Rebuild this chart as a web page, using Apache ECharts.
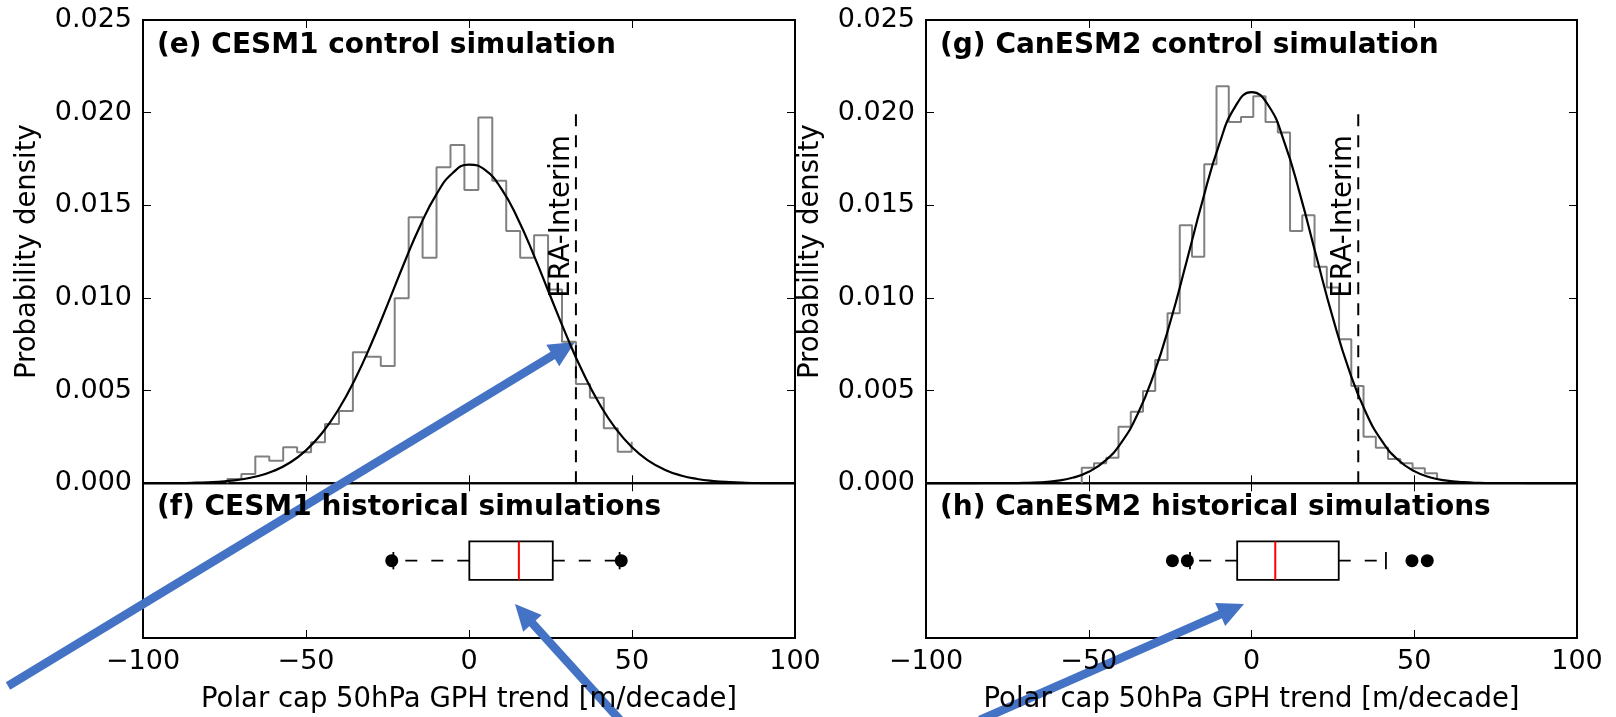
<!DOCTYPE html>
<html>
<head>
<meta charset="utf-8">
<title>Polar cap 50hPa GPH trend distributions</title>
<script src="https://cdn.jsdelivr.net/npm/echarts@6/dist/echarts.min.js"></script>
<style>
  html, body { margin: 0; padding: 0; background: #fff; }
  #chart { width: 1616px; height: 717px; }
</style>
</head>
<body>
<div id="chart"></div>
<script>
// ---- data -------------------------------------------------------------
const xTickValues = [-100, -50, 0, 50, 100];
const yTickValues = [0, 0.005, 0.010, 0.015, 0.020, 0.025];

const panelTitles = [
  '(e) CESM1 control simulation',
  '(f) CESM1 historical simulations',
  '(g) CanESM2 control simulation',
  '(h) CanESM2 historical simulations'
];
const xAxisTitle = 'Polar cap 50hPa GPH trend [m/decade]';
const yAxisTitle = 'Probability density';
const refLabel = 'ERA-Interim';

// observed (reanalysis) trend and the height of its marker line
const eraTrend = 32.8;
const eraLineTop = 0.020;
const eraLabelY = 0.010;

// CESM1 control run histogram (bin edges, densities, closing level of the outline)
const cesmEdges = [-74.1, -69.82, -65.55, -61.27, -57.0, -52.72, -48.44, -44.17, -39.89, -35.62,
  -31.34, -27.06, -22.79, -18.51, -14.24, -9.96, -5.68, -1.41, 2.87, 7.14,
  11.42, 15.70, 19.97, 24.25, 28.52, 32.80, 37.08, 41.35, 45.63, 49.90];
const cesmDensity = [0.00023, 0.0005, 0.00144, 0.00122, 0.00194, 0.00167, 0.00221, 0.0032, 0.0039, 0.00707,
  0.00683, 0.00633, 0.00998, 0.01436, 0.01217, 0.01706, 0.01826, 0.01582, 0.01974, 0.01632,
  0.01362, 0.01217, 0.01339, 0.01046, 0.00764, 0.00536, 0.00462, 0.00297, 0.0017];
const cesmOutlineEnd = 0.00224;

// CanESM2 control run histogram (bin edges, densities, closing level of the outline)
const canEdges = [-52.15, -48.39, -44.62, -40.86, -37.09, -33.33, -29.57, -25.80, -22.04, -18.27,
  -14.51, -10.75, -6.98, -3.22, 0.55, 4.31, 8.08, 11.84, 15.60, 19.37,
  23.13, 26.90, 30.66, 34.42, 38.19, 41.95, 45.72, 49.48, 53.25, 57.01];
const canDensity = [0.00084, 0.00108, 0.00138, 0.00305, 0.00386, 0.00498, 0.00665, 0.00917, 0.01392, 0.01222,
  0.01722, 0.02143, 0.0195, 0.01977, 0.02089, 0.0195, 0.01893, 0.01362, 0.01447, 0.01168,
  0.01057, 0.00777, 0.00525, 0.00251, 0.00192, 0.00131, 0.00108, 0.00081, 0.00054];
const canOutlineEnd = 0.00023;

// fitted density curves, sampled every 5 m/decade
const fitX = [-100, -95, -90, -85, -80, -75, -70, -65, -60, -55, -50, -45, -40, -35, -30, -25, -20, -15, -10, -5,
  0, 5, 10, 15, 20, 25, 30, 35, 40, 45, 50, 55, 60, 65, 70, 75, 80, 85, 90, 95, 100];
const cesmFit = [0.000002, 0.000005, 0.000012, 0.000026, 0.000054, 0.000108, 0.000206, 0.000378, 0.000662, 0.001108,
  0.001777, 0.002725, 0.003994, 0.005604, 0.007515, 0.009642, 0.011832, 0.013889, 0.015592, 0.016743,
  0.017196, 0.016894, 0.015872, 0.014264, 0.01226, 0.010081, 0.007927, 0.005962, 0.00429, 0.002952,
  0.001942, 0.001223, 0.000736, 0.000424, 0.000233, 0.000123, 0.000062, 0.00003, 0.000014, 0.000006, 0.000002];
const canFit = [0, 0, 0, 0.000001, 0.000003, 0.000008, 0.000021, 0.000055, 0.000132, 0.000297,
  0.000621, 0.001209, 0.002198, 0.003726, 0.00589, 0.008679, 0.011925, 0.015277, 0.01825, 0.020327,
  0.02111, 0.020441, 0.018455, 0.015537, 0.012195, 0.008925, 0.00609, 0.003876, 0.002299, 0.001271,
  0.000656, 0.000315, 0.000141, 0.000059, 0.000023, 0.000008, 0.000003, 0.000001, 0, 0, 0];

// historical ensembles: [lower whisker, Q1, median, Q3, upper whisker] and outliers
const cesmHistBox = [-23.2, 0.1, 15.3, 25.7, 46.2];
const cesmHistOutliers = [-23.7, 46.7];
const canHistBox = [-18.9, -4.4, 7.3, 26.8, 41.3];
const canHistOutliers = [-24.3, -19.7, 49.3, 54.0];

// ---- layout & style ---------------------------------------------------
const FONT = 'DejaVu Sans';
const FS_TICK = 27;
const FS_TITLE = 28;
const FS_NAME = 27.5;
const PANELS = [
  { left: 143, width: 652 },
  { left: 926, width: 651 }
];
const HIST_TOP = 20, HIST_H = 463.3, BOX_H = 154.7;
const BOX_HALF = 0.124, CAP_HALF = 0.056;

const minus = v => (v < 0 ? '\u2212' + Math.abs(v) : String(v));

// histogram outline: rises from the baseline at the first edge, closes at endLevel
function stepOutline(edges, dens, endLevel) {
  const pts = [[edges[0], 0]];
  dens.forEach((d, i) => pts.push([edges[i], d]));
  pts.push([edges[edges.length - 1], endLevel]);
  return pts;
}
const zip = (xs, ys) => xs.map((x, i) => [x, ys[i]]);

const grids = [];
const xAxes = [];
const yAxes = [];
const series = [];
const titles = [];

const tickStyle = { show: true, inside: true, length: 8, lineStyle: { color: '#000', width: 1 } };
const noLine = { show: false, onZero: false };
const baseX = {
  type: 'value', min: xTickValues[0], max: xTickValues[xTickValues.length - 1],
  interval: xTickValues[1] - xTickValues[0],
  axisLine: noLine, splitLine: { show: false }, axisTick: tickStyle
};
const baseY = {
  type: 'value', min: yTickValues[0], max: yTickValues[yTickValues.length - 1],
  interval: yTickValues[1] - yTickValues[0],
  axisLine: noLine, splitLine: { show: false }, axisTick: tickStyle
};

const histSets = [
  { edges: cesmEdges, dens: cesmDensity, end: cesmOutlineEnd, fit: cesmFit, box: cesmHistBox, out: cesmHistOutliers },
  { edges: canEdges, dens: canDensity, end: canOutlineEnd, fit: canFit, box: canHistBox, out: canHistOutliers }
];

function renderBox(params, api) {
  const lo = api.value(0), q1 = api.value(1), med = api.value(2), q3 = api.value(3), hi = api.value(4);
  const yc = 0.5;
  const yTop = api.coord([q1, yc + BOX_HALF])[1];
  const yBot = api.coord([q1, yc - BOX_HALF])[1];
  const yMid = api.coord([q1, yc])[1];
  const cT = api.coord([q1, yc + CAP_HALF])[1];
  const cB = api.coord([q1, yc - CAP_HALF])[1];
  const px = v => api.coord([v, yc])[0];
  const xLo = px(lo), x1 = px(q1), xm = px(med), x3 = px(q3), xHi = px(hi);
  const solid = { stroke: '#000', lineWidth: 1.8, fill: null };
  const dashed = { stroke: '#000', lineWidth: 1.8, lineDash: [12, 14], fill: null };
  return {
    type: 'group',
    children: [
      { type: 'line', shape: { x1: x1, y1: yMid, x2: xLo, y2: yMid }, style: dashed },
      { type: 'line', shape: { x1: x3, y1: yMid, x2: xHi, y2: yMid }, style: dashed },
      { type: 'line', shape: { x1: xLo, y1: cT, x2: xLo, y2: cB }, style: solid },
      { type: 'line', shape: { x1: xHi, y1: cT, x2: xHi, y2: cB }, style: solid },
      { type: 'rect', shape: { x: x1, y: yTop, width: x3 - x1, height: yBot - yTop },
        style: { stroke: '#000', lineWidth: 1.8, fill: 'rgba(0,0,0,0)' } },
      { type: 'line', shape: { x1: xm, y1: yTop, x2: xm, y2: yBot },
        style: { stroke: '#ff0000', lineWidth: 2 } }
    ]
  };
}

PANELS.forEach((p, k) => {
  const gHist = grids.length;
  grids.push({ left: p.left, top: HIST_TOP, width: p.width, height: HIST_H,
    show: true, borderColor: '#000', borderWidth: 2, backgroundColor: 'transparent', containLabel: false });
  const gBox = grids.length;
  grids.push({ left: p.left, top: HIST_TOP + HIST_H, width: p.width, height: BOX_H,
    show: true, borderColor: '#000', borderWidth: 2, backgroundColor: 'transparent', containLabel: false });

  // x axes: histogram bottom/top, box bottom/top
  const xHist = xAxes.length;
  xAxes.push(Object.assign({}, baseX, { gridIndex: gHist, position: 'bottom', axisLabel: { show: false } }));
  xAxes.push(Object.assign({}, baseX, { gridIndex: gHist, position: 'top', axisLabel: { show: false } }));
  const xBox = xAxes.length;
  xAxes.push(Object.assign({}, baseX, {
    gridIndex: gBox, position: 'bottom',
    axisLabel: { show: true, margin: 10, fontFamily: FONT, fontSize: FS_TICK, color: '#000', formatter: minus },
    name: xAxisTitle, nameLocation: 'middle', nameGap: 48,
    nameTextStyle: { fontFamily: FONT, fontSize: FS_NAME, color: '#000' }
  }));
  xAxes.push(Object.assign({}, baseX, { gridIndex: gBox, position: 'top', axisLabel: { show: false } }));

  // y axes: histogram left (labelled) / right, box (hidden)
  const yHist = yAxes.length;
  yAxes.push(Object.assign({}, baseY, {
    gridIndex: gHist, position: 'left',
    axisLabel: { show: true, margin: 11, fontFamily: FONT, fontSize: FS_TICK, color: '#000',
      formatter: v => v.toFixed(3) },
    name: yAxisTitle, nameLocation: 'middle', nameGap: 101,
    nameTextStyle: { fontFamily: FONT, fontSize: FS_NAME, color: '#000' }
  }));
  yAxes.push(Object.assign({}, baseY, { gridIndex: gHist, position: 'right', axisLabel: { show: false } }));
  const yBox = yAxes.length;
  yAxes.push({ type: 'value', gridIndex: gBox, min: 0, max: 1, show: false });

  const set = histSets[k];
  series.push({
    type: 'line', xAxisIndex: xHist, yAxisIndex: yHist, step: 'end',
    data: stepOutline(set.edges, set.dens, set.end), symbol: 'none',
    lineStyle: { color: '#808080', width: 2 }, z: 2, silent: true
  });
  series.push({
    type: 'line', xAxisIndex: xHist, yAxisIndex: yHist, smooth: true,
    data: zip(fitX, set.fit), symbol: 'none',
    lineStyle: { color: '#000', width: 2.2 }, z: 3, silent: true
  });
  series.push({
    type: 'line', xAxisIndex: xHist, yAxisIndex: yHist,
    data: [[eraTrend, 0], [eraTrend, eraLineTop]], symbol: 'none',
    lineStyle: { color: '#000', width: 2, type: [12, 9] }, z: 4, silent: true
  });
  series.push({
    type: 'scatter', xAxisIndex: xHist, yAxisIndex: yHist,
    data: [[eraTrend, eraLabelY]], symbol: 'circle', symbolSize: 0.5,
    itemStyle: { color: 'transparent', opacity: 1 }, silent: true,
    label: {
      show: true, formatter: refLabel, rotate: 90, position: [0, 0],
      align: 'left', verticalAlign: 'bottom',
      fontFamily: FONT, fontSize: FS_NAME, color: '#000'
    }, z: 5
  });
  series.push({
    type: 'custom', xAxisIndex: xBox, yAxisIndex: yBox,
    renderItem: renderBox, data: [set.box], silent: true, z: 3
  });
  series.push({
    type: 'scatter', xAxisIndex: xBox, yAxisIndex: yBox,
    data: set.out.map(v => [v, 0.5]), symbol: 'circle', symbolSize: 13,
    itemStyle: { color: '#000', opacity: 1 }, silent: true, z: 4
  });

  titles.push({ text: panelTitles[2 * k], left: p.left + 14, top: 32, padding: 0,
    textStyle: { fontFamily: FONT, fontSize: FS_TITLE, fontWeight: 'bold', color: '#000' } });
  titles.push({ text: panelTitles[2 * k + 1], left: p.left + 14, top: 494, padding: 0,
    textStyle: { fontFamily: FONT, fontSize: FS_TITLE, fontWeight: 'bold', color: '#000' } });
});

// ---- callout arrows drawn over the figure ----------------------------
const ARROWS = [
  { from: [8, 686], to: [575, 342] },
  { from: [620, 720], to: [515, 604] },
  { from: [980, 720], to: [1244, 604] }
];
const ARROW_COLOR = '#4472C4';
const graphics = ARROWS.map(a => {
  const dx = a.to[0] - a.from[0], dy = a.to[1] - a.from[1];
  const len = Math.hypot(dx, dy);
  const ux = dx / len, uy = dy / len;
  const headLen = 26, headHalf = 12.5;
  const bx = a.to[0] - ux * headLen, by = a.to[1] - uy * headLen;
  return {
    type: 'group', z: 100, silent: true,
    children: [
      { type: 'line', shape: { x1: a.from[0], y1: a.from[1], x2: bx + ux * 2, y2: by + uy * 2 },
        style: { stroke: ARROW_COLOR, lineWidth: 8.5, lineCap: 'butt' } },
      { type: 'polygon', shape: { points: [
          [a.to[0], a.to[1]],
          [bx - uy * headHalf, by + ux * headHalf],
          [bx + uy * headHalf, by - ux * headHalf]
        ] }, style: { fill: ARROW_COLOR } }
    ]
  };
});

const chart = echarts.init(document.getElementById('chart'), null, { renderer: 'canvas' });
chart.setOption({
  animation: false,
  backgroundColor: '#fff',
  title: titles,
  grid: grids,
  xAxis: xAxes,
  yAxis: yAxes,
  series: series,
  graphic: graphics
});
</script>
</body>
</html>
